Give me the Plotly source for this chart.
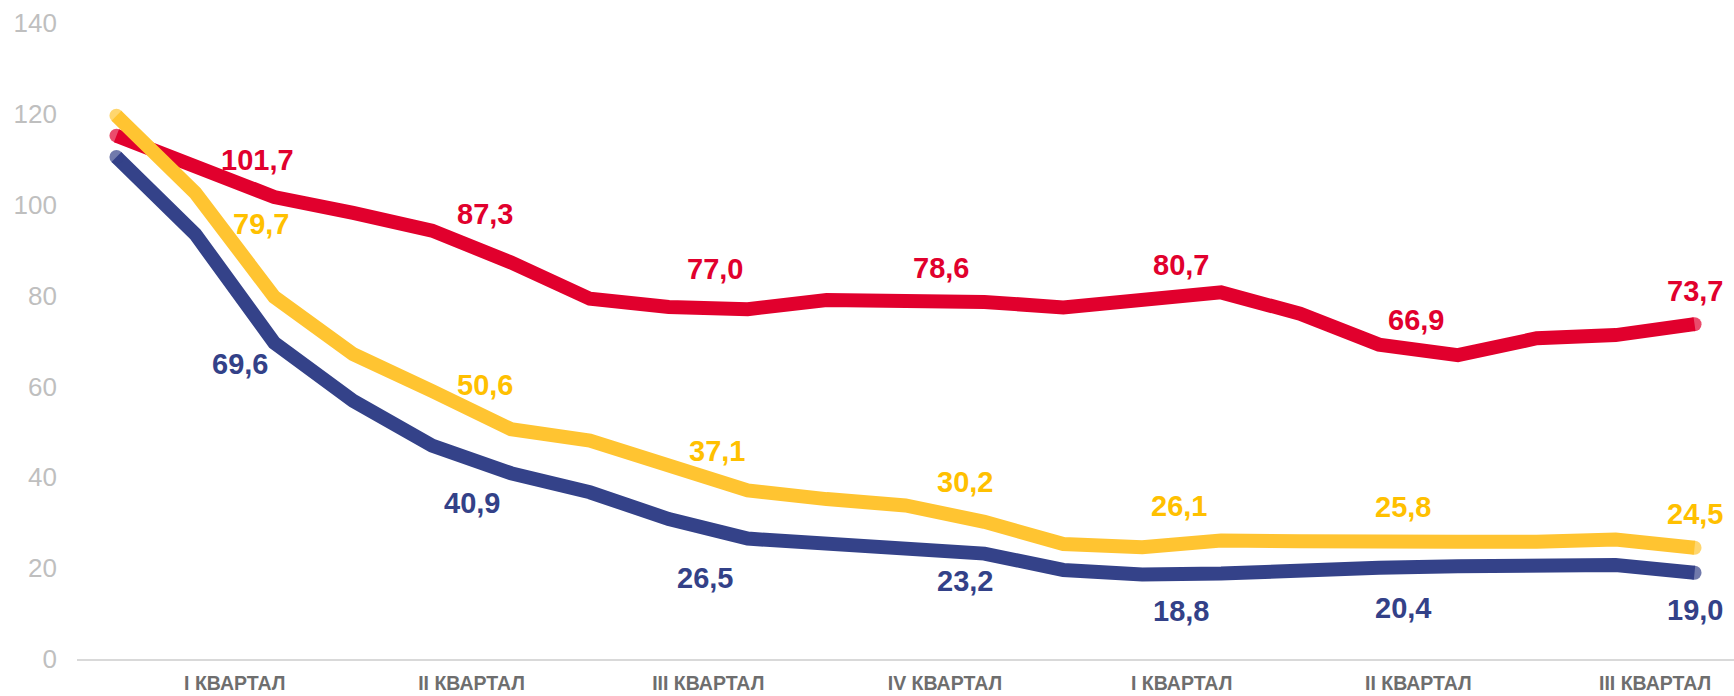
import plotly.graph_objects as go

# ---- data ----
quarter_labels = ["I КВАРТАЛ", "II КВАРТАЛ", "III КВАРТАЛ", "IV КВАРТАЛ",
                  "I КВАРТАЛ", "II КВАРТАЛ", "III КВАРТАЛ"]
red_values = [115.2, 108.2, 101.7, 98.2, 94.3, 87.3, 79.3, 77.5, 77.0, 79.0, 78.8,
              78.6, 77.4, 78.7, 80.7, 76.0, 69.2, 66.9, 70.6, 71.3, 73.7]
yellow_values = [119.6, 102.6, 79.7, 67.1, 59.0, 50.6, 48.1, 42.8, 37.1, 35.2, 33.8,
                 30.2, 25.3, 24.6, 26.1, 25.9, 25.5, 25.8, 25.8, 26.3, 24.5]
blue_values = [110.5, 93.5, 69.6, 56.8, 47.0, 40.9, 36.7, 30.8, 26.5, 25.3, 24.4,
               23.2, 19.6, 18.6, 18.8, 19.6, 20.1, 20.4, 20.6, 20.7, 19.0]
labeled_points = [2, 5, 8, 11, 14, 17, 20]

# ---- style ----
RED, YEL, BLU = "#E1002D", "#FFC431", "#344289"
RED_T, YEL_T, BLU_T = "#E1002D", "#FFC000", "#334188"
FONT = "Arial, Liberation Sans, sans-serif"
LW = 14

# label offsets (px) per series
red_off = [(-17, 37), (-26, 48), (-33, 40), (-43, 34), (-40, 27), (-42, 35), (0, 33)]
yel_off = [(-13, 73), (-26, 44), (-31, 39), (-19, 40), (-42, 34), (-55, 35), (0, 34)]
blu_off = [(-34, -21), (-39, -30), (-43, -39), (-19, -27), (-40, -37), (-55, -42), (0, -37)]

n = len(red_values)
x = list(range(n))
cap_sizes = [LW] + [0] * (n - 2) + [LW]

fig = go.Figure()
for vals, col in [(blue_values, BLU), (red_values, RED), (yellow_values, YEL)]:
    fig.add_trace(go.Scatter(
        x=x, y=vals, mode="lines+markers",
        line=dict(color=col, width=LW),
        marker=dict(color=col, size=cap_sizes, line=dict(width=0)),
        cliponaxis=False, hoverinfo="skip", showlegend=False))

annotations = []
for vals, col, offs in [(red_values, RED_T, red_off), (yellow_values, YEL_T, yel_off),
                        (blue_values, BLU_T, blu_off)]:
    for idx, (dx, dy) in zip(labeled_points, offs):
        annotations.append(dict(
            x=idx, y=vals[idx], xref="x", yref="y",
            text=f"{vals[idx]:.1f}".replace(".", ","),
            showarrow=False, xshift=dx, yshift=dy,
            xanchor="center", yanchor="middle",
            font=dict(family=FONT, size=29, color=col, weight="bold")))

tickvals = [1.5 + 3 * i for i in range(len(quarter_labels))]

fig.update_layout(
    width=1734, height=696,
    margin=dict(l=77, r=0, t=23, b=37, autoexpand=False),
    paper_bgcolor="white", plot_bgcolor="white",
    annotations=annotations,
    xaxis=dict(range=[-0.5, n - 0.5], tickvals=tickvals, ticktext=quarter_labels,
               automargin=False,
               showgrid=False, zeroline=False, showline=True, linecolor="#D9D9D9",
               linewidth=2, ticks="", ticklabelstandoff=6,
               tickfont=dict(family=FONT, size=19.5, color="#6E6E6E", weight="bold")),
    yaxis=dict(range=[0, 140], tickvals=[0, 20, 40, 60, 80, 100, 120, 140],
               automargin=False,
               showgrid=False, zeroline=False, showline=False, ticks="",
               ticklabelstandoff=19,
               tickfont=dict(family=FONT, size=26, color="#BFBFBF")),
)

fig.write_html("out.html", config={"displayModeBar": False},
               post_script="document.body.style.margin='0';document.body.style.overflow='hidden';")
